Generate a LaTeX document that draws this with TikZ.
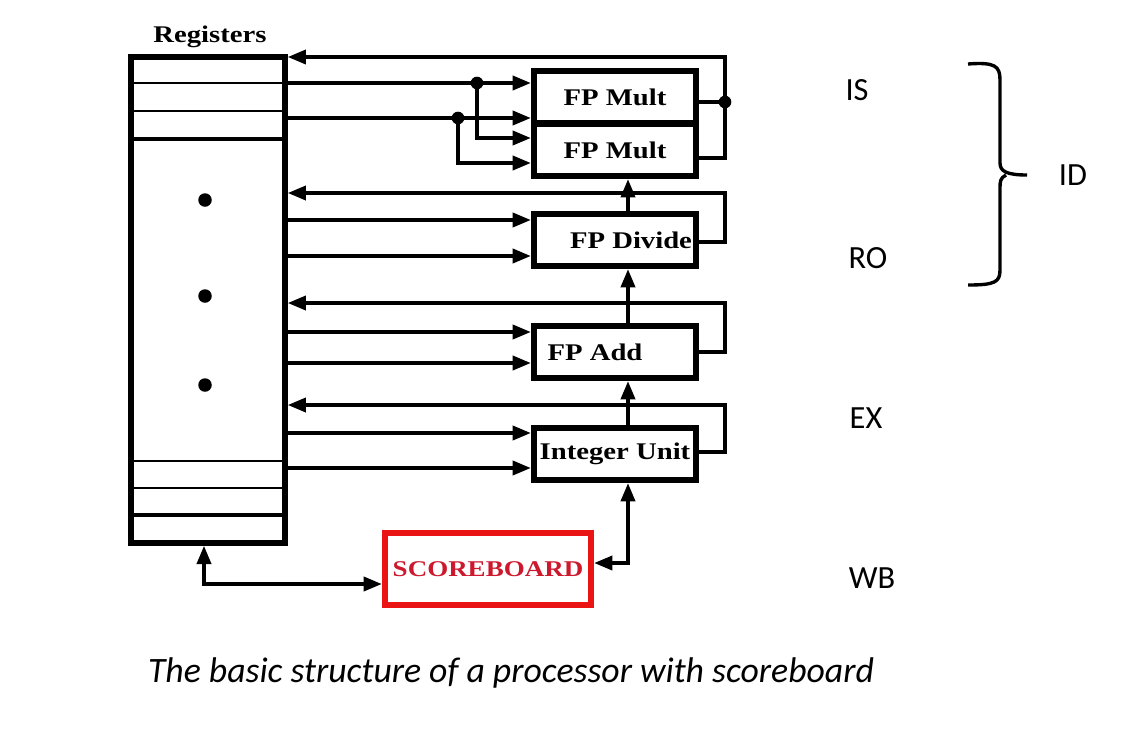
\documentclass[tikz,border=0pt]{standalone}
\usepackage{fontspec}
\setmainfont{Liberation Serif}
\newfontfamily\unitfont[FakeStretch=1.2]{Liberation Serif}
\newfontfamily\stagefont{Carlito}
\usetikzlibrary{arrows.meta}
\definecolor{sbred}{RGB}{235,20,20}
\definecolor{sbtext}{RGB}{205,25,45}

\begin{document}
\begin{tikzpicture}[
  x=0.025cm, y=-0.025cm,
  line join=miter,
  >={Triangle[length=13pt,width=10pt]},
  wire/.style={line width=2.6pt},
  unit/.style={draw, line width=4.4pt, minimum width=4.05cm, minimum height=1.3cm,
    inner sep=0pt, font=\unitfont\bfseries\fontsize{17pt}{20pt}\selectfont},
  stage/.style={font=\stagefont\fontsize{23pt}{27pt}\selectfont}
]
  \def\rx{725}
  \def\cx{628}

  \useasboundingbox (0,0) rectangle (1148,738);

  % Registers
  \node[draw, line width=4.4pt, minimum width=3.83cm, minimum height=12.13cm] (regs) at (208,300) {};
  \node[font=\unitfont\bfseries\fontsize{17pt}{20pt}\selectfont] (reglabel) at (210,37) {Registers};
  \foreach \y/\w in {83/2pt,111/2pt,139/3pt,461/1.5pt,488/1.5pt,515/3pt}
    \draw[line width=\w] (regs.west |- 0,\y) -- (regs.east |- 0,\y);
  \foreach \y in {200,296,385}
    \fill (205,\y) circle (4.8pt);

  % Functional units
  \node[unit] (mult1) at (615,97) {FP Mult};
  \node[unit] (mult2) at (615,150) {FP Mult};
  \node[unit] (divide) at (615,240) {\hspace*{0.8cm}FP Divide};
  \node[unit] (add) at (615,352) {FP Add\hspace*{1cm}};
  \node[unit] (intu) at (615,454) {Integer Unit};

  \node[draw=sbred, line width=4.4pt, minimum width=5.15cm, minimum height=1.8cm, inner sep=0pt,
    text=sbtext, font=\unitfont\bfseries\fontsize{16pt}{19pt}\selectfont] (score) at (488,569) {SCOREBOARD};

  % Operands to FP Mult
  \coordinate (d1) at (477,83);
  \coordinate (d2) at (458,118);
  \draw[wire] (regs.east |- d1) -- (d1);
  \draw[wire] (regs.east |- d2) -- (d2);
  \draw[wire,->] (d1) -- (mult1.west |- d1);
  \draw[wire,->] (d2) -- (mult1.west |- d2);
  \draw[wire,->] (d1) |- (mult2.west |- 0,138);
  \draw[wire,->] (d2) |- (mult2.west |- 0,163);
  \fill (d1) circle (4.5pt);
  \fill (d2) circle (4.5pt);

  % Operands to the other units
  \foreach \u/\y in {divide/220,divide/256,add/332,add/363,intu/433,intu/468}
    \draw[wire,->] (regs.east |- 0,\y) -- (\u.west |- 0,\y);

  % Results back to the registers
  \coordinate (jm) at (\rx,102);
  \draw[wire] (mult1.east |- jm) -- (jm);
  \draw[wire,->] (mult2.east |- 0,158) -| (jm) |- (regs.east |- 0,57);
  \fill (jm) circle (4.5pt);
  \foreach \u/\y/\t in {divide/193/242,add/303/352,intu/405/452}
    \draw[wire,->] (\u.east |- 0,\t) -| (\rx,\y) -- (regs.east |- 0,\y);

  % Control path
  \draw[wire,->] (divide.north -| \cx,0) -- (mult2.south -| \cx,0);
  \draw[wire,->] (add.north -| \cx,0) -- (divide.south -| \cx,0);
  \draw[wire,->] (intu.north -| \cx,0) -- (add.south -| \cx,0);
  \draw[wire,<->] (score.east |- 0,563) -| (intu.south -| \cx,0);
  \draw[wire,<->] (regs.south -| 204,0) |- (score.west |- 0,584);

  % Stages
  \node[stage] (is) at (857,90) {IS};
  \node[stage] (ro) at (868,258) {RO};
  \node[stage] (ex) at (866,418) {EX};
  \node[stage] (wb) at (872,578) {WB};
  \node[stage] (id) at (1073,175) {ID};
  \draw[line width=2.4pt] (968,64) .. controls (995,62) and (1000,66) .. (1000,80) -- (1000,163)
    .. controls (1000,171) and (1006,175) .. (1027,175)
    (1006,175) .. controls (1000,178) and (1000,182) .. (1000,188) -- (1000,270)
    .. controls (1000,282) and (995,285) .. (968,285);

  % Caption
  \node[font=\stagefont\itshape\fontsize{25.4pt}{30pt}\selectfont] (caption) at (511,673)
    {The basic structure of a processor with scoreboard};
\end{tikzpicture}
\end{document}
